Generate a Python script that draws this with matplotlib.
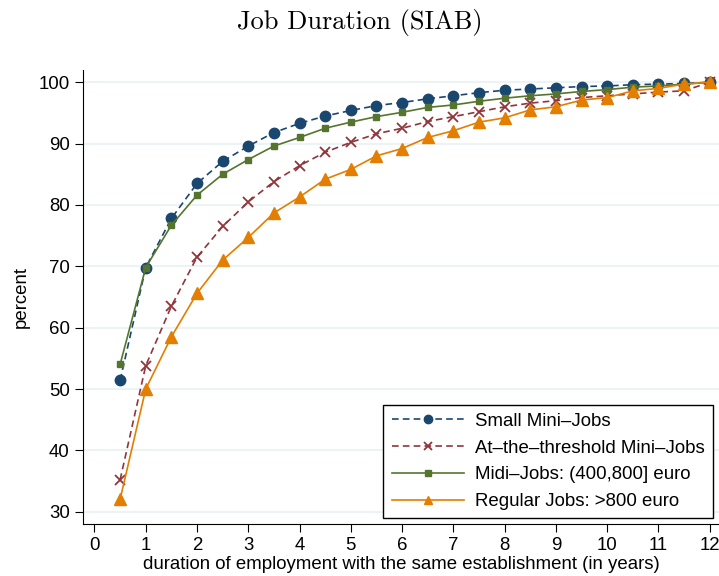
import numpy as np
import matplotlib
matplotlib.use('Agg')
import matplotlib.pyplot as plt

plt.rcParams['font.family'] = ['Liberation Sans', 'DejaVu Sans']

# years in the same establishment (half-year steps)
years = [0.5, 1, 1.5, 2, 2.5, 3, 3.5, 4, 4.5, 5, 5.5, 6,
         6.5, 7, 7.5, 8, 8.5, 9, 9.5, 10, 10.5, 11, 11.5, 12]

# cumulative share of jobs ended (percent)
small_mini = [51.4, 69.8, 77.8, 83.5, 87.1, 89.6, 91.8, 93.3, 94.5, 95.4, 96.2, 96.7,
              97.3, 97.8, 98.3, 98.7, 98.9, 99.1, 99.3, 99.4, 99.6, 99.7, 99.8, 100]
threshold_mini = [35.2, 53.8, 63.5, 71.5, 76.5, 80.5, 83.8, 86.4, 88.6, 90.2, 91.6, 92.5,
                  93.6, 94.4, 95.2, 96.0, 96.6, 97.0, 97.5, 97.8, 98.1, 98.4, 98.6, 100]
midi = [54.0, 69.8, 76.7, 81.6, 85.0, 87.4, 89.6, 91.0, 92.5, 93.5, 94.4, 95.1,
        95.9, 96.3, 96.9, 97.4, 97.8, 98.1, 98.5, 98.8, 99.2, 99.4, 99.7, 100]
regular = [32.0, 50.0, 58.5, 65.6, 71.0, 74.7, 78.7, 81.3, 84.2, 85.8, 88.0, 89.2,
           91.0, 92.1, 93.5, 94.2, 95.5, 96.0, 97.1, 97.5, 98.6, 99.0, 99.7, 100]

labels = ['Small Mini\u2013Jobs', 'At\u2013the\u2013threshold Mini\u2013Jobs',
          'Midi\u2013Jobs: (400,800] euro', 'Regular Jobs: >800 euro']

fig = plt.figure(figsize=(7.19, 5.76), dpi=100)
ax = fig.add_axes([0.1154, 0.0903, 0.8846, 0.7882])

ax.plot(years, small_mini, color='#1a476f', ls=(0, (4, 2.5)), lw=1.2,
        marker='o', ms=7.5, label=labels[0])
ax.plot(years, threshold_mini, color='#90353b', ls=(0, (4, 2.5)), lw=1.2,
        marker='x', ms=6.5, mew=1.3, label=labels[1])
ax.plot(years, midi, color='#55752f', ls='-', lw=1.2,
        marker='s', ms=5, label=labels[2])
ax.plot(years, regular, color='#e37e00', ls='-', lw=1.2,
        marker='^', ms=8, label=labels[3])

ax.set_xlim(-0.224, 12.18)
ax.set_ylim(28, 102)
ax.set_xticks(np.arange(0, 13, 1))
ax.set_yticks(np.arange(30, 101, 10))
ax.grid(axis='y', color='#eaf2f3', lw=1.3)
ax.set_axisbelow(True)

for side in ['top', 'right']:
    ax.spines[side].set_visible(False)
ax.tick_params(direction='out', length=6, labelsize=13.4)

ax.set_xlabel('duration of employment with the same establishment (in years)',
              fontsize=13.4, labelpad=1)
ax.set_ylabel('percent', fontsize=13.4, labelpad=6)

fig.suptitle('Job Duration (SIAB)', family='cmr10', fontsize=19, y=0.985)

leg = ax.legend(loc='lower right', fontsize=13.4, handlelength=3.9,
                handletextpad=0.6, markerscale=0.8,
                fancybox=False, edgecolor='black', framealpha=1,
                borderaxespad=0.3, labelspacing=0.52, borderpad=0.45)
leg.get_frame().set_linewidth(1.0)

fig.savefig('out.png', dpi=100)
